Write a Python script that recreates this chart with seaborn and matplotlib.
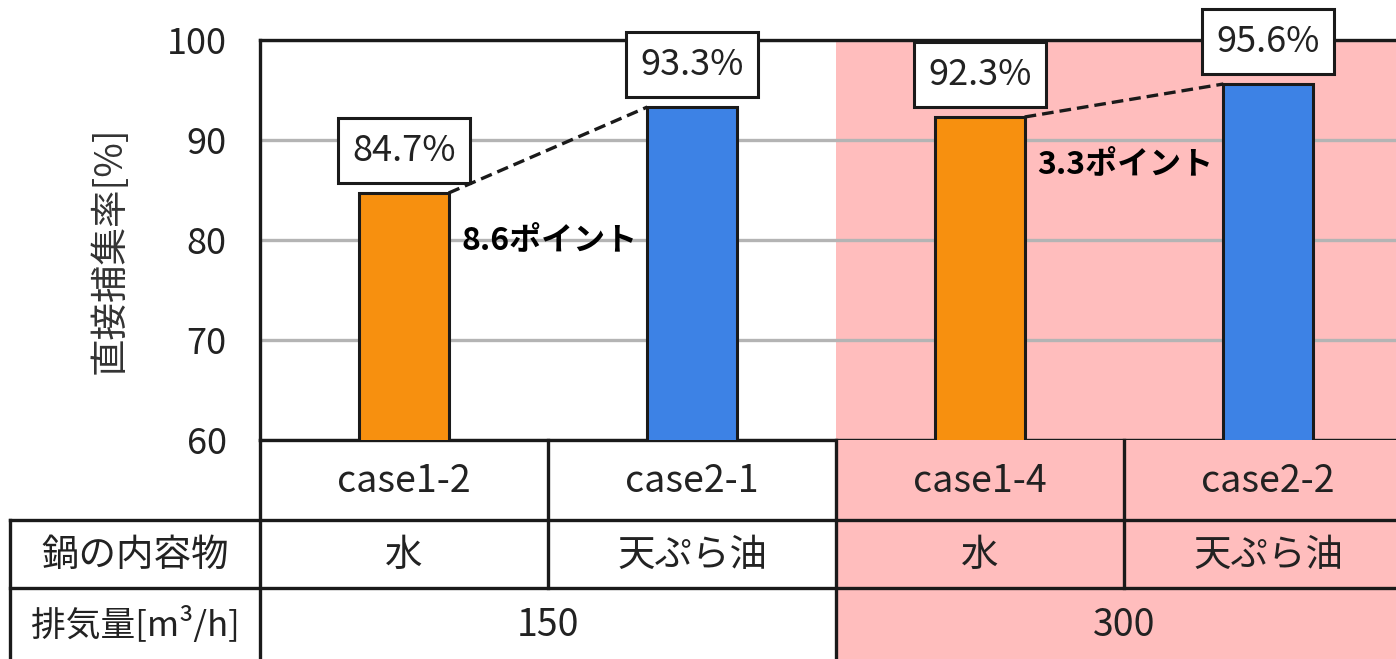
import matplotlib
matplotlib.use("Agg")
import matplotlib.pyplot as plt
import seaborn as sns
import pandas as pd

# ---- data ----
cases = ["case1-2", "case2-1", "case1-4", "case2-2"]
values = [84.7, 93.3, 92.3, 95.6]
contents = ["水", "天ぷら油", "水", "天ぷら油"]
exhaust_groups = ["150", "300"]
row_labels = ["鍋の内容物", "排気量[m³/h]"]
ylabel = "直接捕集率[%]"
yticks = [60, 70, 80, 90, 100]
bar_colors = ["#F7900F", "#3D82E5", "#F7900F", "#3D82E5"]
pairs = [(0, 1), (2, 3)]

PINK = "#FFBDBD"
GRID = "#B4B4B4"
INK = "#1A1A1A"

sns.set_theme(style="white")
plt.rcParams['font.family'] = ['Noto Sans CJK JP', 'DejaVu Sans']

W, H = 1396, 659
fig = plt.figure(figsize=(W / 100, H / 100), dpi=100)
fig.patch.set_facecolor("white")


def px_axes(x0, y0, x1, y1):
    return fig.add_axes([x0 / W, 1 - y1 / H, (x1 - x0) / W, (y1 - y0) / H])


# ---- main bar axes ----
ax = px_axes(260, 40, 1412, 440)
df = pd.DataFrame({"case": cases, "value": values})
ax.axvspan(1.5, 3.5, color=PINK, lw=0, zorder=0)
sns.barplot(data=df, x="case", y="value", hue="case", palette=bar_colors,
            saturation=1, width=0.31, edgecolor=INK, linewidth=2.2,
            legend=False, ax=ax, zorder=3)
ax.set_xlim(-0.5, 3.5)
ax.set_ylim(60, 100)
ax.set_yticks(yticks)
ax.set_xticks([])
ax.set_xlabel("")
ax.set_ylabel(ylabel, fontsize=27, color="#333333")
ax.yaxis.set_label_coords(-0.113, 0.475)
ax.set_facecolor("none")
ax.set_axisbelow(True)
ax.yaxis.grid(True, color=GRID, lw=2.4)
ax.tick_params(axis="y", length=0, pad=24, labelsize=26, labelcolor="#222222")
for s in ["top", "left", "bottom"]:
    ax.spines[s].set_visible(True)
    ax.spines[s].set_color(INK)
    ax.spines[s].set_linewidth(2.4)
ax.spines["right"].set_visible(False)
ax.spines["top"].set_zorder(5)

bw = 0.31
for i, v in enumerate(values):
    ax.annotate(f"{v:.1f}%", xy=(i, v), xytext=(0, 30.5), textcoords="offset points",
                ha="center", va="center", fontsize=26, color="#222222", zorder=6,
                bbox=dict(boxstyle="square,pad=0.4", fc="white", ec=INK, lw=2.2),
                annotation_clip=False)

for a, b in pairs:
    ax.plot([a + bw / 2, b - bw / 2], [values[a], values[b]], color=INK, lw=2.4,
            ls=(0, (3.5, 1.8)), zorder=4, solid_capstyle="butt")
    diff = values[b] - values[a]
    ax.annotate(f"{diff:.1f}ポイント", xy=(a + bw / 2, values[a]), xytext=(9, -34.5),
                textcoords="offset points", ha="left", va="center", fontsize=23,
                fontweight="bold", color="black", zorder=6)

# ---- table under the chart ----
tab = px_axes(260, 440, 1412, 659)
tab.set_xlim(-0.5, 3.5)
tab.set_ylim(219, 0)
tab.axis("off")
tab.axvspan(1.5, 3.5, color=PINK, lw=0, zorder=0)
rows = [0, 80, 148, 219]
xl = -0.5 - 250 / 288
lk = dict(color=INK, lw=2.4, clip_on=False, zorder=3, solid_capstyle="projecting")
for y in rows[1:3]:
    tab.plot([xl, 3.5], [y, y], **lk)
tab.plot([-0.5, -0.5], [0, 219], **lk)
tab.plot([xl, xl], [80, 219], **lk)
for xv in [0.5, 2.5]:
    tab.plot([xv, xv], [0, 148], **lk)
tab.plot([1.5, 1.5], [0, 219], **lk)

tk = dict(ha="center", va="center", color="#222222", clip_on=False)
for i, c in enumerate(cases):
    tab.text(i, 41, c, fontsize=27, **tk)
for i, c in enumerate(contents):
    tab.text(i, 115, c, fontsize=27, **tk)
for g, lab in enumerate(exhaust_groups):
    tab.text(2 * g + 0.5, 185, lab, fontsize=27, **tk)
xc = -0.5 - 125 / 288
tab.text(xc, 115, row_labels[0], fontsize=27, **tk)
tab.text(xc, 185, row_labels[1], fontsize=25, **tk)

fig.savefig("out.png", dpi=100)
